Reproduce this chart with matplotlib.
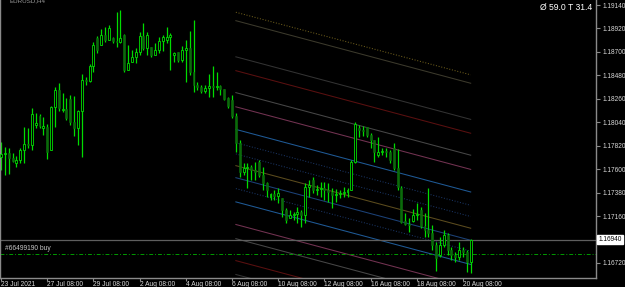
import numpy as np
import matplotlib
matplotlib.use("Agg")
import matplotlib.pyplot as plt
import matplotlib.transforms as mtransforms

# ---------------- data (EURUSD H4) ----------------
opens = [1.17714,1.17743,1.17752,1.17705,1.17658,1.17686,1.17780,1.17836,1.17827,1.18015,
         1.18099,1.17986,1.17996,1.17780,1.18183,1.18343,1.18155,1.18165,1.18258,1.18043,
         1.17986,1.18146,1.18437,1.18427,1.18568,1.18831,1.18765,1.18859,1.18812,1.18831,
         1.18802,1.18793,1.18859,1.18530,1.18605,1.18652,1.18699,1.18849,1.18737,1.18746,
         1.18671,1.18718,1.18802,1.18812,1.18840,1.18671,1.18699,1.18624,1.18718,1.18737,
         1.18512,1.18390,1.18371,1.18333,1.18362,1.18380,1.18371,1.18380,1.18352,1.18268,
         1.18249,1.18099,1.17846,1.17574,1.17611,1.17621,1.17592,1.17667,1.17546,1.17470,
         1.17339,1.17367,1.17349,1.17330,1.17217,1.17142,1.17170,1.17180,1.17198,1.17170,
         1.17433,1.17499,1.17405,1.17414,1.17424,1.17405,1.17386,1.17358,1.17367,1.17377,
         1.17386,1.17405,1.17667,1.17986,1.17968,1.17996,1.17921,1.17874,1.17733,1.17761,
         1.17771,1.17761,1.17799,1.17611,1.17424,1.17114,1.17086,1.17114,1.17170,1.17217,
         1.17067,1.17030,1.17001,1.16889,1.16795,1.16889,1.16983,1.16842,1.16795,1.16776,
         1.16842,1.16823,1.16729]
highs = [1.17855,1.17808,1.17799,1.17752,1.17724,1.17799,1.17996,1.17986,1.18174,1.18127,
         1.18118,1.18090,1.18024,1.18193,1.18371,1.18409,1.18315,1.18268,1.18296,1.18287,
         1.18155,1.18493,1.18465,1.18587,1.18793,1.18849,1.18915,1.18934,1.18953,1.18840,
         1.19074,1.19093,1.18868,1.18765,1.18718,1.18737,1.18887,1.18971,1.18887,1.18746,
         1.18784,1.18840,1.18859,1.18934,1.18877,1.18699,1.18699,1.18756,1.18812,1.18896,
         1.18999,1.18418,1.18390,1.18390,1.18493,1.18568,1.18512,1.18390,1.18352,1.18277,
         1.18296,1.18127,1.17874,1.17658,1.17658,1.17639,1.17667,1.17686,1.17621,1.17480,
         1.17377,1.17405,1.17424,1.17330,1.17236,1.17217,1.17198,1.17245,1.17217,1.17470,
         1.17499,1.17527,1.17452,1.17480,1.17480,1.17470,1.17424,1.17414,1.17405,1.17433,
         1.17424,1.17686,1.18043,1.18015,1.18005,1.17996,1.17940,1.17874,1.17902,1.17799,
         1.17799,1.17780,1.17846,1.17789,1.17442,1.17189,1.17142,1.17227,1.17283,1.17245,
         1.17189,1.17424,1.17077,1.16917,1.16964,1.17030,1.17001,1.16870,1.16823,1.16917,
         1.16870,1.16842,1.16945]
lows = [1.17592,1.17546,1.17555,1.17667,1.17621,1.17658,1.17658,1.17799,1.17780,1.17986,
        1.17986,1.17921,1.17696,1.17780,1.17996,1.18146,1.18136,1.18061,1.18015,1.17911,
        1.17827,1.17714,1.18390,1.18418,1.18512,1.18690,1.18765,1.18793,1.18812,1.18784,
        1.18746,1.18784,1.18512,1.18530,1.18605,1.18596,1.18671,1.18718,1.18671,1.18652,
        1.18671,1.18690,1.18709,1.18784,1.18530,1.18605,1.18605,1.18605,1.18418,1.18484,
        1.18324,1.18343,1.18315,1.18315,1.18277,1.18277,1.18343,1.18296,1.18249,1.18174,
        1.18080,1.17761,1.17527,1.17546,1.17424,1.17499,1.17499,1.17527,1.17405,1.17339,
        1.17311,1.17311,1.17283,1.17152,1.17095,1.17142,1.17123,1.17095,1.17058,1.17095,
        1.17339,1.17377,1.17358,1.17339,1.17311,1.17292,1.17236,1.17292,1.17330,1.17339,
        1.17339,1.17405,1.17658,1.17902,1.17911,1.17902,1.17799,1.17667,1.17714,1.17733,
        1.17714,1.17658,1.17592,1.17405,1.17095,1.17077,1.17011,1.17105,1.17123,1.17048,
        1.16964,1.16964,1.16842,1.16645,1.16776,1.16870,1.16795,1.16748,1.16729,1.16748,
        1.16776,1.16636,1.16626]
closes = [1.17743,1.17752,1.17705,1.17677,1.17686,1.17780,1.17836,1.17827,1.18118,1.18033,
          1.18005,1.18005,1.17761,1.18183,1.18343,1.18174,1.18165,1.18080,1.18043,1.17986,
          1.18146,1.18437,1.18427,1.18568,1.18765,1.18718,1.18859,1.18812,1.18924,1.18802,
          1.18793,1.18831,1.18530,1.18596,1.18652,1.18699,1.18849,1.18737,1.18859,1.18671,
          1.18718,1.18802,1.18840,1.18840,1.18859,1.18690,1.18624,1.18718,1.18737,1.18512,
          1.18390,1.18371,1.18333,1.18362,1.18380,1.18371,1.18380,1.18352,1.18258,1.18193,
          1.18099,1.17846,1.17574,1.17611,1.17621,1.17592,1.17574,1.17546,1.17470,1.17405,
          1.17367,1.17349,1.17377,1.17217,1.17123,1.17170,1.17180,1.17198,1.17170,1.17433,
          1.17452,1.17405,1.17414,1.17424,1.17405,1.17386,1.17358,1.17367,1.17377,1.17386,
          1.17405,1.17667,1.18024,1.17968,1.17958,1.17921,1.17874,1.17761,1.17761,1.17771,
          1.17761,1.17686,1.17611,1.17433,1.17105,1.17086,1.17077,1.17170,1.17180,1.17067,
          1.17030,1.17001,1.16889,1.16767,1.16889,1.16983,1.16842,1.16795,1.16776,1.16842,
          1.16823,1.16729,1.16940]

date_labels = ["23 Jul 2021", "27 Jul 08:00", "29 Jul 08:00", "2 Aug 08:00", "4 Aug 08:00",
               "6 Aug 08:00", "10 Aug 08:00", "12 Aug 08:00", "16 Aug 08:00", "18 Aug 08:00",
               "20 Aug 08:00"]
bars_per_label = 12
price_ticks = [1.19140, 1.18920, 1.18700, 1.18480, 1.18260, 1.18040, 1.17820,
               1.17600, 1.17380, 1.17160, 1.16720]
bid_price = 1.16940
order_price = 1.16805
order_label = "#66499190 buy"
symbol_label = "EURUSD,H4"
info_label = "Ø 59.0 T 31.4"

# channel (center line from bar 61 to bar 122) and parallel offsets
chan_start_bar, chan_end_bar = 61, 122
chan_start_price, chan_end_price = 1.17633, 1.17046
chan_offsets = [0.01439, 0.01360, 0.01021, 0.00891, 0.00685, 0.00552, 0.00340, 0.00215, 0.00110,
                0.0, -0.00113, -0.00215, -0.00340, -0.00552, -0.00685, -0.00891, -0.01021]
chan_colors = ["#6e5e1c", "#3c3a2c", "#333333", "#5a1010", "#474747", "#733352", "#1f5a96",
               "#1a3564", "#1a3564", "#5c4c1e", "#1c4278", "#1a3564", "#1f5a96", "#733352",
               "#474747", "#5a1010", "#333333"]
chan_styles = [":", "-", "-", "-", "-", "-", "-", ":", ":", "-", "-", ":", "-", "-", "-", "-", "-"]

# ---------------- figure ----------------
W, H = 625, 287
fig = plt.figure(figsize=(W / 100, H / 100), dpi=100, facecolor="black")
plot_right_px, plot_bottom_px = 596, 278
ax = fig.add_axes([0, (H - plot_bottom_px) / H, plot_right_px / W, plot_bottom_px / H])
ax.set_facecolor("black")

n = len(opens)
x = np.arange(n)
o = np.array(opens); h = np.array(highs); l = np.array(lows); c = np.array(closes)

lime = "#00dc00"
# channel lines
cx = np.array([chan_start_bar, chan_end_bar])
for off, col, ls in zip(chan_offsets, chan_colors, chan_styles):
    ax.plot(cx, [chan_start_price + off, chan_end_price + off], color=col, lw=0.75, ls=ls, zorder=1)

# price lines
ax.axhline(bid_price, color="#5e5e5e", lw=0.9, zorder=1.5)
ax.axhline(order_price, color="#009a00", lw=0.7, ls=(0, (4, 2, 1, 2)), zorder=1.5)

# candles
ax.vlines(x, l, h, color=lime, lw=0.9, zorder=2)
bull = c >= o
bw = 0.5
bot = np.minimum(o, c)
hgt = np.maximum(np.abs(c - o), 0.00003)
ax.bar(x[bull], hgt[bull], bottom=bot[bull], width=bw, color="black",
       edgecolor=lime, linewidth=0.6, zorder=3)
ax.bar(x[~bull], hgt[~bull], bottom=bot[~bull], width=bw, color="#0b6a0b",
       edgecolor="#0b6a0b", linewidth=0.4, zorder=3)

# scales
px_per_bar = 3.85
x0_bar = -1 / px_per_bar
ax.set_xlim(x0_bar, x0_bar + plot_right_px / px_per_bar)
ax.set_ylim(1.16579, 1.19187)

ax.spines["top"].set_visible(False)
for side in ["left", "right", "bottom"]:
    ax.spines[side].set_color("#8a8a8a")
    ax.spines[side].set_linewidth(1.0)

ax.yaxis.tick_right()
ax.set_yticks(price_ticks)
ax.set_yticklabels([f"{p:.5f}" for p in price_ticks])
ax.tick_params(axis="y", colors="#8a8a8a", labelcolor="#d8d8d8", length=3, width=0.8,
               pad=1.5, labelsize=4.7, direction="out")
tick_pos = np.arange(len(date_labels)) * bars_per_label
ax.set_xticks(tick_pos)
ax.set_xticklabels(date_labels)
ax.tick_params(axis="x", colors="#8a8a8a", labelcolor="#d8d8d8", length=2, width=0.8,
               pad=0.0, labelsize=4.8, direction="out")
for lab in ax.get_xticklabels():
    lab.set_horizontalalignment("left")
    lab.set_fontfamily("Liberation Sans")
for lab in ax.get_yticklabels():
    lab.set_fontfamily("Liberation Sans")

# bid label box
trans = mtransforms.blended_transform_factory(ax.transAxes, ax.transData)
ax.text(1.004, bid_price, f"{bid_price:.5f}", transform=trans, ha="left", va="center",
        fontsize=4.7, family="Liberation Sans", color="black", clip_on=False,
        bbox=dict(boxstyle="square,pad=0.2", facecolor="white", edgecolor="white"))

# texts
ax.text(5 / plot_right_px, 1 - 249 / plot_bottom_px, order_label, transform=ax.transAxes,
        ha="left", va="center", fontsize=4.8, family="Liberation Sans", color="#c8c8c8")
ax.text(592 / plot_right_px, 1 - 7 / plot_bottom_px, info_label, transform=ax.transAxes,
        ha="right", va="center", fontsize=6.2, family="Liberation Sans", color="white")
ax.text(9 / plot_right_px, 1 - 1 / plot_bottom_px, symbol_label, transform=ax.transAxes,
        ha="left", va="center", fontsize=4.5, family="Liberation Sans", color="#9a9a9a")

fig.savefig("out.png", dpi=100, facecolor="black")
